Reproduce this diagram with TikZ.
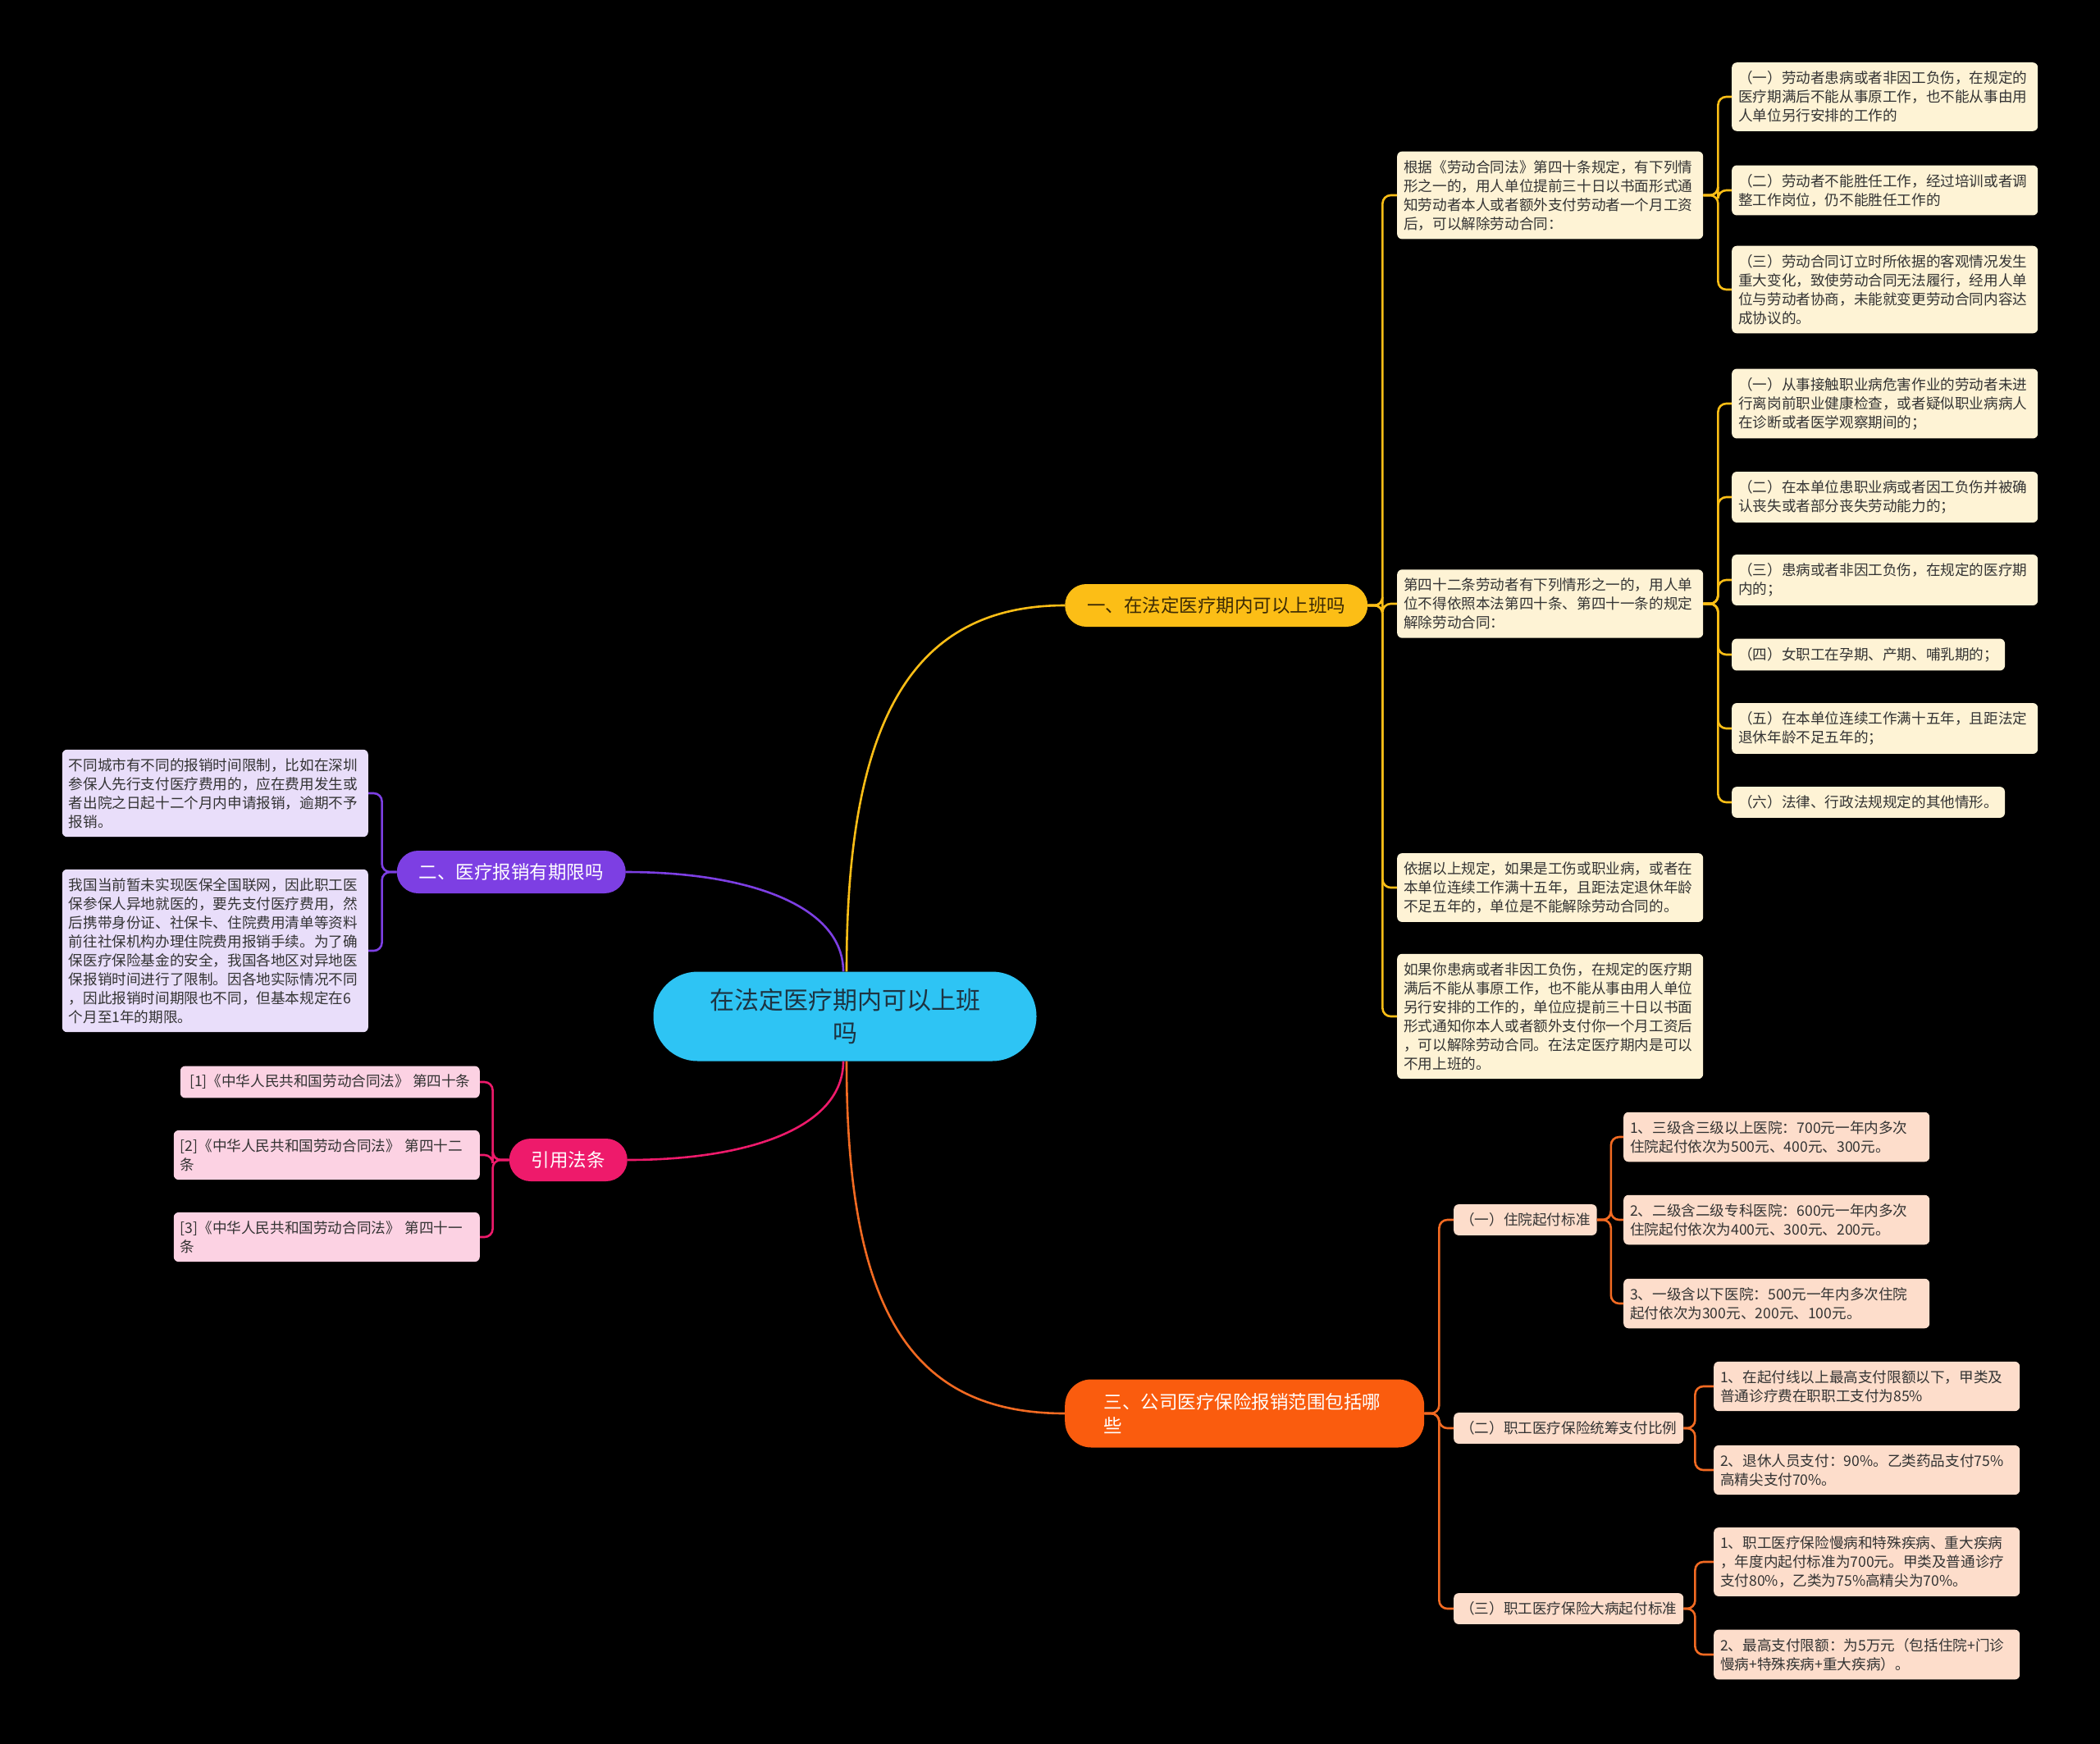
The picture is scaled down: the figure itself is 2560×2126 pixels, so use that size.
\documentclass[tikz,border=0pt]{standalone}
\usepackage{fontspec}
\setmainfont{Noto Sans CJK SC}
\usepackage{xcolor}

\definecolor{rootblue}{HTML}{2EC4F4}
\definecolor{roottext}{HTML}{1D3341}
\definecolor{ylw}{HTML}{FCBE16}
\definecolor{ylwtext}{HTML}{3B2A05}
\definecolor{ylwleaf}{HTML}{FEF3D5}
\definecolor{prp}{HTML}{7D3FE3}
\definecolor{prpleaf}{HTML}{E9DEFA}
\definecolor{pnk}{HTML}{EE1A6B}
\definecolor{pnkleaf}{HTML}{FCD2E3}
\definecolor{org}{HTML}{FA5C0E}
\definecolor{orgline}{HTML}{F26A22}
\definecolor{orgleaf}{HTML}{FDDDCB}
\definecolor{leaftext}{HTML}{333333}

\newcommand\rootfont{\fontsize{30pt}{40pt}\selectfont}
\newcommand\branchfont{\fontsize{22.5pt}{29pt}\selectfont}
\newcommand\leaffont{\fontsize{17.6pt}{23pt}\selectfont}

\begin{document}
\begin{tikzpicture}[x=1pt, y=-1pt,
    root node/.style={
        fill=rootblue, text=roottext,
        rounded corners=54pt,
        minimum width=467pt, minimum height=109pt,
        align=center, font=\rootfont
    },
    main branch/.style={
        rounded corners=26pt,
        inner xsep=27pt, minimum height=52pt,
        font=\branchfont, text=white
    },
    leaf box/.style={
        rounded corners=6pt,
        inner xsep=8pt, inner ysep=10.5pt,  % 文字四周留白
        align=left, font=\leaffont, text=leaftext
    },
    wide/.style={text width=357pt},
    link/.style={line width=2.6pt, rounded corners=10pt}
]
% 背景
\fill[black] (0,0) rectangle (2560,2126);

% 中心主题
\node[root node] (root) at (1030,1239) {在法定医疗期内可以上班\\吗};

% 一级分支
\node[main branch, fill=ylw, text=ylwtext, anchor=west] (b1) at (1298,738) {一、在法定医疗期内可以上班吗};
\node[main branch, fill=prp, anchor=east] (b2) at (763,1063) {二、医疗报销有期限吗};
\node[main branch, fill=pnk, anchor=east] (cite) at (765,1414) {引用法条};
\node[main branch, fill=org, anchor=west, minimum width=438pt, minimum height=83pt,
    rounded corners=32pt, text width=343pt, align=left] (b3) at (1298,1723) {三、公司医疗保险报销范围包括哪\\些};

% 一、黄色
\node[leaf box, wide, fill=ylwleaf, anchor=west] (y1) at (1703,238) {根据《劳动合同法》第四十条规定，有下列情\\形之一的，用人单位提前三十日以书面形式通\\知劳动者本人或者额外支付劳动者一个月工资\\后，可以解除劳动合同：};
\node[leaf box, wide, fill=ylwleaf, anchor=west] (y2) at (1703,736) {第四十二条劳动者有下列情形之一的，用人单\\位不得依照本法第四十条、第四十一条的规定\\解除劳动合同：};
\node[leaf box, wide, fill=ylwleaf, anchor=west] (y3) at (1703,1082) {依据以上规定，如果是工伤或职业病，或者在\\本单位连续工作满十五年，且距法定退休年龄\\不足五年的，单位是不能解除劳动合同的。};
\node[leaf box, wide, fill=ylwleaf, anchor=west] (y4) at (1703,1239) {如果你患病或者非因工负伤，在规定的医疗期\\满后不能从事原工作，也不能从事由用人单位\\另行安排的工作的，单位应提前三十日以书面\\形式通知你本人或者额外支付你一个月工资后\\，可以解除劳动合同。在法定医疗期内是可以\\不用上班的。};

\node[leaf box, wide, fill=ylwleaf, anchor=west] (y1a) at (2111,118) {（一）劳动者患病或者非因工负伤，在规定的\\医疗期满后不能从事原工作，也不能从事由用\\人单位另行安排的工作的};
\node[leaf box, wide, fill=ylwleaf, anchor=west] (y1b) at (2111,232) {（二）劳动者不能胜任工作，经过培训或者调\\整工作岗位，仍不能胜任工作的};
\node[leaf box, wide, fill=ylwleaf, anchor=west] (y1c) at (2111,353) {（三）劳动合同订立时所依据的客观情况发生\\重大变化，致使劳动合同无法履行，经用人单\\位与劳动者协商，未能就变更劳动合同内容达\\成协议的。};

\node[leaf box, wide, fill=ylwleaf, anchor=west] (y2a) at (2111,492) {（一）从事接触职业病危害作业的劳动者未进\\行离岗前职业健康检查，或者疑似职业病病人\\在诊断或者医学观察期间的；};
\node[leaf box, wide, fill=ylwleaf, anchor=west] (y2b) at (2111,606) {（二）在本单位患职业病或者因工负伤并被确\\认丧失或者部分丧失劳动能力的；};
\node[leaf box, wide, fill=ylwleaf, anchor=west] (y2c) at (2111,707) {（三）患病或者非因工负伤，在规定的医疗期\\内的；};
\node[leaf box, fill=ylwleaf, anchor=west] (y2d) at (2111,798) {（四）女职工在孕期、产期、哺乳期的；};
\node[leaf box, wide, fill=ylwleaf, anchor=west] (y2e) at (2111,888) {（五）在本单位连续工作满十五年，且距法定\\退休年龄不足五年的；};
\node[leaf box, fill=ylwleaf, anchor=west] (y2f) at (2111,978) {（六）法律、行政法规规定的其他情形。};

% 二、紫色
\node[leaf box, wide, fill=prpleaf, anchor=east] (p1) at (449,967) {不同城市有不同的报销时间限制，比如在深圳\\参保人先行支付医疗费用的，应在费用发生或\\者出院之日起十二个月内申请报销，逾期不予\\报销。};
\node[leaf box, wide, fill=prpleaf, anchor=east] (p2) at (449,1159) {我国当前暂未实现医保全国联网，因此职工医\\保参保人异地就医的，要先支付医疗费用，然\\后携带身份证、社保卡、住院费用清单等资料\\前往社保机构办理住院费用报销手续。为了确\\保医疗保险基金的安全，我国各地区对异地医\\保报销时间进行了限制。因各地实际情况不同\\，因此报销时间期限也不同，但基本规定在6\\个月至1年的期限。};

% 引用法条
\node[leaf box, fill=pnkleaf, anchor=east, minimum width=365pt] (r1) at (585,1319) {[1]《中华人民共和国劳动合同法》 第四十条};
\node[leaf box, wide, fill=pnkleaf, anchor=east] (r2) at (585,1408) {[2]《中华人民共和国劳动合同法》 第四十二\\条};
\node[leaf box, wide, fill=pnkleaf, anchor=east] (r3) at (585,1508) {[3]《中华人民共和国劳动合同法》 第四十一\\条};

% 三、橙色
\node[leaf box, fill=orgleaf, anchor=west] (o1) at (1772,1487) {（一）住院起付标准};
\node[leaf box, fill=orgleaf, anchor=west] (o2) at (1772,1741) {（二）职工医疗保险统筹支付比例};
\node[leaf box, fill=orgleaf, anchor=west] (o3) at (1772,1961) {（三）职工医疗保险大病起付标准};

\node[leaf box, wide, fill=orgleaf, anchor=west] (o1a) at (1979,1386) {1、三级含三级以上医院：700元一年内多次\\住院起付依次为500元、400元、300元。};
\node[leaf box, wide, fill=orgleaf, anchor=west] (o1b) at (1979,1487) {2、二级含二级专科医院：600元一年内多次\\住院起付依次为400元、300元、200元。};
\node[leaf box, wide, fill=orgleaf, anchor=west] (o1c) at (1979,1589) {3、一级含以下医院：500元一年内多次住院\\起付依次为300元、200元、100元。};
\node[leaf box, wide, fill=orgleaf, anchor=west] (o2a) at (2089,1690) {1、在起付线以上最高支付限额以下，甲类及\\普通诊疗费在职职工支付为85\%};
\node[leaf box, wide, fill=orgleaf, anchor=west] (o2b) at (2089,1792) {2、退休人员支付：90\%。乙类药品支付75\%\\高精尖支付70\%。};
\node[leaf box, wide, fill=orgleaf, anchor=west] (o3a) at (2089,1904) {1、职工医疗保险慢病和特殊疾病、重大疾病\\，年度内起付标准为700元。甲类及普通诊疗\\支付80\%，乙类为75\%高精尖为70\%。};
\node[leaf box, wide, fill=orgleaf, anchor=west] (o3b) at (2089,2017) {2、最高支付限额：为5万元（包括住院+门诊\\慢病+特殊疾病+重大疾病）。};

% 中心到分支的曲线
\draw[link, ylw] ([xshift=2pt]root.north) .. controls +(0,-300) and +(-190,0) .. (b1.west);
\draw[link, prp] ([xshift=-2pt]root.north) .. controls +(0,-80) and +(150,0) .. (b2.east);
\draw[link, pnk] ([xshift=-2pt]root.south) .. controls +(0,80) and +(150,0) .. (cite.east);
\draw[link, orgline] ([xshift=2pt]root.south) .. controls +(0,300) and +(-190,0) .. (b3.west);

% 分支到子节点
\foreach \c in {y1,y2,y3,y4}
    \draw[link, ylw] (b1.east) -- ++(18,0) |- (\c.west);
\foreach \c in {y1a,y1b,y1c}
    \draw[link, ylw] (y1.east) -- ++(18,0) |- (\c.west);
\foreach \c in {y2a,y2b,y2c,y2d,y2e,y2f}
    \draw[link, ylw] (y2.east) -- ++(18,0) |- (\c.west);
\foreach \c in {p1,p2}
    \draw[link, prp] (b2.west) -- ++(-18,0) |- (\c.east);
\foreach \c in {r1,r2,r3}
    \draw[link, pnk] (cite.west) -- ++(-20,0) |- (\c.east);
\foreach \c in {o1,o2,o3}
    \draw[link, orgline] (b3.east) -- ++(18,0) |- (\c.west);
\foreach \c in {o1a,o1b,o1c}
    \draw[link, orgline] (o1.east) -- ++(17,0) |- (\c.west);
\foreach \c in {o2a,o2b}
    \draw[link, orgline] (o2.east) -- ++(14,0) |- (\c.west);
\foreach \c in {o3a,o3b}
    \draw[link, orgline] (o3.east) -- ++(14,0) |- (\c.west);
\end{tikzpicture}
\end{document}
